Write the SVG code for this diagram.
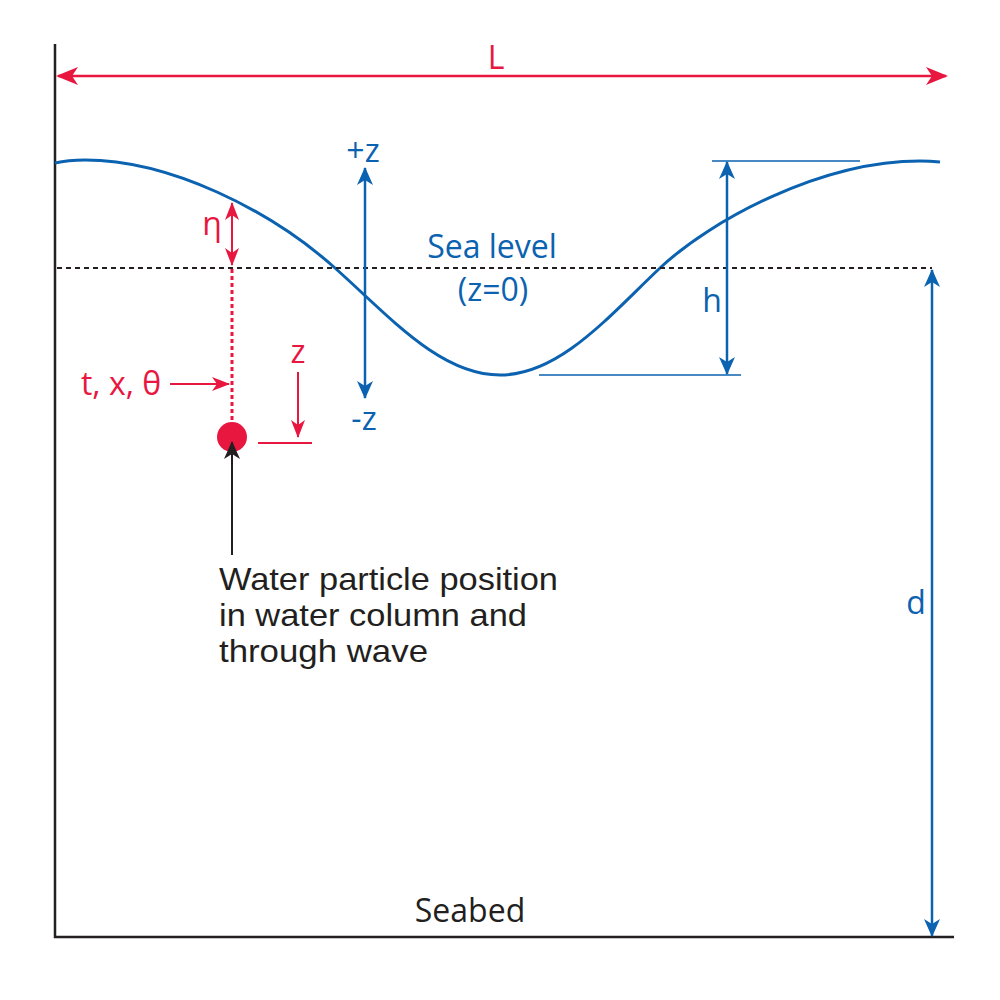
<svg xmlns="http://www.w3.org/2000/svg" width="1000" height="1000" viewBox="0 0 1000 1000">
<style>
.red{stroke:#e8173f;fill:none}
.blue{stroke:#0b62b0;fill:none}
.tr{fill:#e8173f;font-family:"Open Sans","Liberation Sans",sans-serif}
.tb{fill:#0b62b0;font-family:"Open Sans","Liberation Sans",sans-serif}
.tk{fill:#231f20;font-family:"Open Sans","Liberation Sans",sans-serif}
.tp{fill:#231f20;font-family:"Liberation Sans",Arial,sans-serif;font-size:31.5px}
</style>
<defs>
<marker id="ar" markerUnits="userSpaceOnUse" markerWidth="22" markerHeight="18" refX="20" refY="9" orient="auto-start-reverse" viewBox="0 0 22 18"><path d="M0,0 L22,9 L0,18 L6,9 z" fill="#e8173f"/></marker>
<marker id="ars" markerUnits="userSpaceOnUse" markerWidth="18" markerHeight="14" refX="17" refY="7" orient="auto-start-reverse" viewBox="0 0 18 14"><path d="M0,0 L18,7 L0,14 L5,7 z" fill="#e8173f"/></marker>
<marker id="ab" markerUnits="userSpaceOnUse" markerWidth="18" markerHeight="16" refX="17" refY="8" orient="auto-start-reverse" viewBox="0 0 18 16"><path d="M0,0 L18,8 L0,16 L5,8 z" fill="#0b62b0"/></marker>
<marker id="ak" markerUnits="userSpaceOnUse" markerWidth="18" markerHeight="16" refX="17" refY="8" orient="auto-start-reverse" viewBox="0 0 18 16"><path d="M0,0 L18,8 L0,16 L5,8 z" fill="#231f20"/></marker>
</defs>
<rect width="1000" height="1000" fill="#fff"/>
<g id="frame">
<path d="M55,44 V937 H954" stroke="#231f20" stroke-width="2.5" fill="none"/>
</g>
<g id="wave">
<path class="blue" stroke-width="3" d="M55,163 Q68,160 85,160 C170,160 270,210 335,268 C390,317 440,375 500,375 C560,375 610,315 660,268 C710,221 820,161 920,161 Q930,161 940,162"/>
</g>
<g id="sea-level">
<line x1="57" y1="268" x2="932" y2="268" stroke="#231f20" stroke-width="2" stroke-dasharray="5,4"/>
<text class="tb" x="492" y="258" font-size="32" text-anchor="middle">Sea level</text>
<text class="tb" x="493" y="301" font-size="32" text-anchor="middle">(z=0)</text>
</g>
<g id="particle">
<circle cx="232" cy="437" r="15" fill="#e8173f"/>
</g>
<g id="particle-label">
<text class="tp" x="219" y="590" textLength="339" lengthAdjust="spacingAndGlyphs">Water particle position</text>
<text class="tp" x="219" y="626" textLength="308" lengthAdjust="spacingAndGlyphs">in water column and</text>
<text class="tp" x="219" y="662" textLength="209" lengthAdjust="spacingAndGlyphs">through wave</text>
</g>
<g id="seabed">
<text class="tk" x="470" y="922" font-size="32" text-anchor="middle">Seabed</text>
</g>
<g id="labels">
<text class="tr" x="496" y="69" font-size="32" text-anchor="middle">L</text>
<text class="tb" x="363" y="162" font-size="32" text-anchor="middle">+z</text>
<text class="tb" x="364" y="430" font-size="32" text-anchor="middle">-z</text>
<text class="tb" x="712" y="312" font-size="32" text-anchor="middle">h</text>
<text class="tb" x="916" y="614" font-size="32" text-anchor="middle">d</text>
<text class="tr" x="212" y="235" font-size="32" text-anchor="middle">η</text>
<text class="tr" x="121" y="395" font-size="32" text-anchor="middle">t, x, θ</text>
<text class="tr" x="298" y="363" font-size="32" text-anchor="middle">z</text>
</g>
<g id="connectors">
<line class="red" x1="58" y1="76" x2="946" y2="76" stroke-width="2.5" marker-start="url(#ar)" marker-end="url(#ar)"/>
<line class="blue" x1="365" y1="168" x2="365" y2="398" stroke-width="2.5" marker-start="url(#ab)" marker-end="url(#ab)"/>
<line class="blue" x1="727" y1="162" x2="727" y2="374" stroke-width="2.5" marker-start="url(#ab)" marker-end="url(#ab)"/>
<line class="blue" x1="712" y1="161" x2="860" y2="161" stroke-width="1.5"/>
<line class="blue" x1="539" y1="375" x2="741" y2="375" stroke-width="1.5"/>
<line class="blue" x1="932" y1="270" x2="932" y2="936" stroke-width="2.5" marker-start="url(#ab)" marker-end="url(#ab)"/>
<line class="red" x1="232" y1="203" x2="232" y2="265" stroke-width="2" marker-start="url(#ars)" marker-end="url(#ars)"/>
<line class="red" x1="232" y1="269" x2="232" y2="424" stroke-width="3" stroke-dasharray="4,3"/>
<line class="red" x1="170" y1="384" x2="229" y2="384" stroke-width="2" marker-end="url(#ars)"/>
<line class="red" x1="298" y1="372" x2="298" y2="437" stroke-width="2" marker-end="url(#ars)"/>
<line class="red" x1="258" y1="443" x2="312" y2="443" stroke-width="2"/>
<line x1="232" y1="555" x2="232" y2="442" stroke="#231f20" stroke-width="2" marker-end="url(#ak)"/>
</g>
</svg>
